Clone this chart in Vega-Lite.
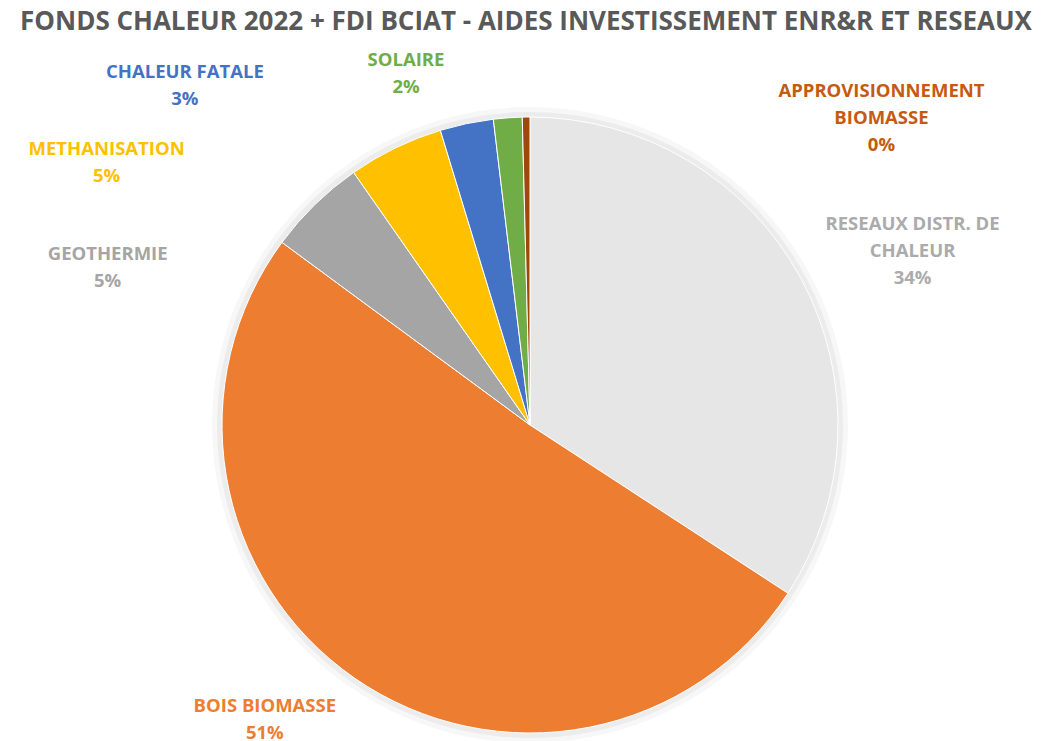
{
  "$schema": "https://vega.github.io/schema/vega-lite/v6.json",
  "autosize": "none",
  "width": 1030,
  "height": 616,
  "padding": {"left": 15, "top": 117, "right": 0, "bottom": 8},
  "background": "white",
  "title": {
    "text": "FONDS CHALEUR 2022 + FDI BCIAT - AIDES INVESTISSEMENT ENR&R ET RESEAUX",
    "font": "Open Sans",
    "fontSize": 26,
    "fontWeight": "bold",
    "color": "#595959",
    "anchor": "middle",
    "baseline": "alphabetic",
    "offset": -30,
    "dx": -4
  },
  "config": {"view": {"stroke": null}},
  "data": {
    "values": [
      {"cat": "RESEAUX DISTR. DE CHALEUR", "label": "RESEAUX DISTR. DE\nCHALEUR", "value": 34.2, "rank": 1},
      {"cat": "BOIS BIOMASSE", "label": "BOIS BIOMASSE", "value": 50.9, "rank": 2},
      {"cat": "GEOTHERMIE", "label": "GEOTHERMIE", "value": 5.2, "rank": 3},
      {"cat": "METHANISATION", "label": "METHANISATION", "value": 5.0, "rank": 4},
      {"cat": "CHALEUR FATALE", "label": "CHALEUR FATALE", "value": 2.8, "rank": 5},
      {"cat": "SOLAIRE", "label": "SOLAIRE", "value": 1.5, "rank": 6},
      {"cat": "APPROVISIONNEMENT BIOMASSE", "label": "APPROVISIONNEMENT\nBIOMASSE", "value": 0.4, "rank": 7}
    ]
  },
  "transform": [
    {"calculate": "datum.label + '\\n' + format(datum.value, '.0f') + '%'", "as": "txt"}
  ],
  "encoding": {
    "theta": {"field": "value", "type": "quantitative", "stack": true},
    "order": {"field": "rank", "type": "quantitative"}
  },
  "layer": [
    {
      "mark": {"type": "arc", "outerRadius": 318, "color": "#000000", "opacity": 0.03},
      "encoding": {"detail": {"field": "cat"}}
    },
    {
      "mark": {"type": "arc", "outerRadius": 313, "color": "#000000", "opacity": 0.045},
      "encoding": {"detail": {"field": "cat"}}
    },
    {
      "mark": {"type": "arc", "stroke": "white", "strokeWidth": 1},
      "encoding": {
        "color": {
          "field": "cat",
          "type": "nominal",
          "scale": {
            "domain": ["RESEAUX DISTR. DE CHALEUR", "BOIS BIOMASSE", "GEOTHERMIE", "METHANISATION", "CHALEUR FATALE", "SOLAIRE", "APPROVISIONNEMENT BIOMASSE"],
            "range": ["#E7E6E6", "#ED7D31", "#A5A5A5", "#FFC000", "#4472C4", "#70AD47", "#9E480E"]
          },
          "legend": null
        }
      }
    },
    {
      "mark": {"type": "text", "radius": 360, "dx": 66, "dy": -30, "font": "Open Sans", "fontSize": 18.5, "fontWeight": "bold", "color": "#ABABAB", "lineBreak": "\n", "lineHeight": 27},
      "encoding": {"detail": {"field": "cat"}, "text": {"condition": {"test": "datum.rank === 1", "field": "txt"}, "value": ""}}
    },
    {
      "mark": {"type": "text", "radius": 360, "dx": -60, "dy": -15, "font": "Open Sans", "fontSize": 18.5, "fontWeight": "bold", "color": "#ED7D31", "lineBreak": "\n", "lineHeight": 27},
      "encoding": {"detail": {"field": "cat"}, "text": {"condition": {"test": "datum.rank === 2", "field": "txt"}, "value": ""}}
    },
    {
      "mark": {"type": "text", "radius": 360, "dx": -171, "dy": 87, "font": "Open Sans", "fontSize": 18.5, "fontWeight": "bold", "color": "#A5A5A5", "lineBreak": "\n", "lineHeight": 27},
      "encoding": {"detail": {"field": "cat"}, "text": {"condition": {"test": "datum.rank === 3", "field": "txt"}, "value": ""}}
    },
    {
      "mark": {"type": "text", "radius": 360, "dx": -266, "dy": 48, "font": "Open Sans", "fontSize": 18.5, "fontWeight": "bold", "color": "#FFC000", "lineBreak": "\n", "lineHeight": 27},
      "encoding": {"detail": {"field": "cat"}, "text": {"condition": {"test": "datum.rank === 4", "field": "txt"}, "value": ""}}
    },
    {
      "mark": {"type": "text", "radius": 360, "dx": -271, "dy": -1, "font": "Open Sans", "fontSize": 18.5, "fontWeight": "bold", "color": "#4472C4", "lineBreak": "\n", "lineHeight": 27},
      "encoding": {"detail": {"field": "cat"}, "text": {"condition": {"test": "datum.rank === 5", "field": "txt"}, "value": ""}}
    },
    {
      "mark": {"type": "text", "radius": 360, "dx": -98, "dy": -6, "font": "Open Sans", "fontSize": 18.5, "fontWeight": "bold", "color": "#70AD47", "lineBreak": "\n", "lineHeight": 27},
      "encoding": {"detail": {"field": "cat"}, "text": {"condition": {"test": "datum.rank === 6", "field": "txt"}, "value": ""}}
    },
    {
      "mark": {"type": "text", "radius": 360, "dx": 356, "dy": 26, "font": "Open Sans", "fontSize": 18.5, "fontWeight": "bold", "color": "#C55A11", "lineBreak": "\n", "lineHeight": 27},
      "encoding": {"detail": {"field": "cat"}, "text": {"condition": {"test": "datum.rank === 7", "field": "txt"}, "value": ""}}
    }
  ]
}
